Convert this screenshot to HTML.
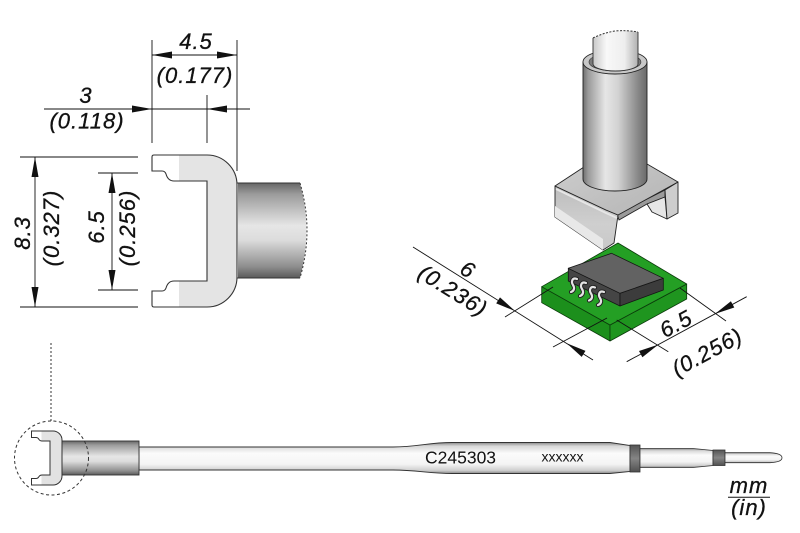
<!DOCTYPE html>
<html><head><meta charset="utf-8">
<style>html,body{margin:0;padding:0;background:#fff}svg{display:block}
.d{font-family:"Liberation Sans",Arial,sans-serif;font-style:italic;font-size:22px;letter-spacing:1px;fill:#111;stroke:#111;stroke-width:0.3}
</style></head>
<body>
<svg width="800" height="533" viewBox="0 0 800 533" xmlns="http://www.w3.org/2000/svg">
<defs>
<linearGradient id="forkFill" gradientUnits="userSpaceOnUse" x1="152" y1="0" x2="237" y2="0">
<stop offset="0" stop-color="#fff"/><stop offset="0.32" stop-color="#fff"/><stop offset="0.32" stop-color="#e4e4e4"/><stop offset="1" stop-color="#e4e4e4"/></linearGradient>
<linearGradient id="forkFill2" gradientUnits="userSpaceOnUse" x1="31" y1="0" x2="62" y2="0">
<stop offset="0" stop-color="#fff"/><stop offset="0.34" stop-color="#fff"/><stop offset="0.34" stop-color="#e2e2e2"/><stop offset="1" stop-color="#e2e2e2"/></linearGradient>
<linearGradient id="shankV" x1="0" y1="0" x2="0" y2="1">
<stop offset="0" stop-color="#666"/><stop offset="0.12" stop-color="#9c9c9c"/><stop offset="0.45" stop-color="#e6e6e6"/><stop offset="0.6" stop-color="#dcdcdc"/><stop offset="0.88" stop-color="#8e8e8e"/><stop offset="1" stop-color="#5a5a5a"/></linearGradient>
<linearGradient id="shaftV" x1="0" y1="0" x2="0" y2="1">
<stop offset="0" stop-color="#8a8a8a"/><stop offset="0.12" stop-color="#d8d8d8"/><stop offset="0.35" stop-color="#fbfbfb"/><stop offset="0.7" stop-color="#f4f4f4"/><stop offset="0.9" stop-color="#cfcfcf"/><stop offset="1" stop-color="#888"/></linearGradient>
<linearGradient id="bandV" x1="0" y1="0" x2="0" y2="1">
<stop offset="0" stop-color="#555"/><stop offset="0.5" stop-color="#858585"/><stop offset="1" stop-color="#505050"/></linearGradient>
<linearGradient id="cylH" x1="0" y1="0" x2="1" y2="0">
<stop offset="0" stop-color="#6f6f6f"/><stop offset="0.08" stop-color="#9a9a9a"/><stop offset="0.35" stop-color="#e6e6e6"/><stop offset="0.55" stop-color="#d2d2d2"/><stop offset="0.85" stop-color="#8a8a8a"/><stop offset="1" stop-color="#6a6a6a"/></linearGradient>
<linearGradient id="tubeH" x1="0" y1="0" x2="1" y2="0">
<stop offset="0" stop-color="#c8c8c8"/><stop offset="0.3" stop-color="#f8f8f8"/><stop offset="0.7" stop-color="#eeeeee"/><stop offset="1" stop-color="#b0b0b0"/></linearGradient>
<linearGradient id="brTop" x1="0" y1="0" x2="1" y2="1">
<stop offset="0" stop-color="#d0d0d0"/><stop offset="1" stop-color="#b4b4b4"/></linearGradient>
<linearGradient id="brSide" x1="0" y1="0" x2="0" y2="1">
<stop offset="0" stop-color="#bdbdbd"/><stop offset="0.6" stop-color="#cfcfcf"/><stop offset="1" stop-color="#c8c8c8"/></linearGradient>
</defs>

<!-- ===== Left 2D tip view ===== -->
<path d="M238,183 H300 Q313,230 300,278 H238 Z" fill="url(#shankV)"/>
<path d="M237,183 H300 M237,278 H300" stroke="#333" stroke-width="1" fill="none"/>
<path d="M300,183 Q314,230 300,278" stroke="#333" stroke-width="1" stroke-dasharray="2,2" fill="none"/>
<path d="M152,157 Q152,155 154,155 H207 A30,30 0 0 1 237,185 V277 A30,30 0 0 1 207,307 H154 Q152,307 152,305 V291 H162 Q165,291 166,288 Q168,281 174,281 H207 V181 H174 Q168,181 166,174 Q165,171 162,171 H152 Z" fill="url(#forkFill)" stroke="#333" stroke-width="1.1"/>

<!-- dims left -->
<g stroke="#111" stroke-width="0.9" fill="none">
<path d="M152,40 V143 M237,40 V171 M152,55 H237"/>
<path d="M44,109 H250 M207,95 V143"/>
<path d="M20,157 H138 M20,307 H138 M35,157 V307"/>
<path d="M98,173 H138 M98,290 H138 M112,173 V290"/>
</g>
<g fill="#111">
<polygon points="152,55 172,51.5 172,58.5"/><polygon points="237,55 217,51.5 217,58.5"/>
<polygon points="152,109 132,105.5 132,112.5"/><polygon points="207,109 227,105.5 227,112.5"/>
<polygon points="35,157 31.5,177 38.5,177"/><polygon points="35,307 31.5,287 38.5,287"/>
<polygon points="112,173 108.5,193 115.5,193"/><polygon points="112,290 108.5,270 115.5,270"/>
</g>
<text class="d" x="196" y="49" text-anchor="middle">4.5</text>
<text class="d" x="195" y="83" text-anchor="middle">(0.177)</text>
<text class="d" x="86" y="103" text-anchor="middle">3</text>
<text class="d" x="87" y="128.5" text-anchor="middle">(0.118)</text>
<text class="d" transform="translate(30,233) rotate(-90)" text-anchor="middle">8.3</text>
<text class="d" transform="translate(59,228) rotate(-90)" text-anchor="middle">(0.327)</text>
<text class="d" transform="translate(104,227) rotate(-90)" text-anchor="middle">6.5</text>
<text class="d" transform="translate(135,228) rotate(-90)" text-anchor="middle">(0.256)</text>

<!-- ===== Bottom full tool ===== -->
<path d="M51,343 V421" stroke="#333" stroke-width="1" stroke-dasharray="2,2"/>
<path d="M139,447 H393 C418,447 428,442.5 452,442.5 H610 L630,445.5 V471.5 L610,473.5 H452 C428,473.5 418,470 393,470 H139 Z" fill="url(#shaftV)" stroke="#333" stroke-width="0.9"/>
<rect x="62" y="441" width="77" height="34" fill="url(#shankV)" stroke="#333" stroke-width="0.9"/>
<path d="M31.5,431 H53 A9,9 0 0 1 62,440 V476 A9,9 0 0 1 53,485 H31.5 V478.5 H36 Q38,478.5 39,476.5 Q40,475 42,475 H50 V441 H42 Q40,441 39,439.5 Q38,437.5 36,437.5 H31.5 Z" fill="url(#forkFill2)" stroke="#333" stroke-width="1"/>
<rect x="630" y="445" width="10" height="27" fill="url(#bandV)" stroke="#333" stroke-width="0.8"/>
<path d="M640,448.5 H693 L713,450.5 V465.5 L693,467.5 H640 Z" fill="url(#shaftV)" stroke="#333" stroke-width="0.8"/>
<rect x="713" y="450" width="12" height="15.5" fill="url(#bandV)" stroke="#333" stroke-width="0.8"/>
<path d="M725,452.7 H770 Q782,453.5 782,457.7 Q782,462 770,462.7 H725 Z" fill="url(#shaftV)" stroke="#333" stroke-width="0.8"/>
<circle cx="51.5" cy="458" r="37" fill="none" stroke="#333" stroke-width="1" stroke-dasharray="3,2.5"/>
<text x="425" y="463.5" font-family="Liberation Sans, Arial, sans-serif" font-size="17.5" fill="#111">C245303</text>
<text x="541.5" y="461.5" font-family="Liberation Sans, Arial, sans-serif" font-size="14" fill="#111">xxxxxx</text>
<text class="d" x="749" y="493" text-anchor="middle">mm</text>
<path d="M728,497.3 H770" stroke="#111" stroke-width="1"/>
<text class="d" x="749" y="515" text-anchor="middle">(in)</text>

<!-- ===== Right 3D view ===== -->
<!-- board -->
<g stroke="#0b3b0b" stroke-width="0.8" stroke-linejoin="round">
<polygon points="541.7,286.7 610,325 610,341 541.7,302.7" fill="#1c8f1c"/>
<polygon points="610,325 686.7,284 686.7,299 610,341" fill="#1f951f"/>
<polygon points="541.7,286.7 618,243 686.7,284 610,325" fill="#249f24"/>
</g>
<!-- chip -->
<g stroke="#151515" stroke-width="0.8" stroke-linejoin="round">
<polygon points="568.3,268.3 620,293.3 620,306 568.3,281" fill="#454545"/>
<polygon points="620,293.3 663.3,278.3 663.3,290 620,306" fill="#3c3c3c"/>
<polygon points="568.3,268.3 611.6,253.3 663.3,278.3 620,293.3" fill="#626262"/>
</g>
<!-- leads -->
<g fill="none" stroke-linecap="round">
<g stroke="#222" stroke-width="4.2">
<path d="M577,279 C572,277 571,282 573,285 C575,288 574,291 571,292"/>
<path d="M586,283 C581,281 580,286 582,289 C584,292 583,295 580,296"/>
<path d="M595,287.5 C590,285.5 589,290.5 591,293.5 C593,296.5 592,299.5 589,300.5"/>
<path d="M604,292 C599,290 598,295 600,298 C602,301 601,304 598,305"/>
</g>
<g stroke="#e4e4e4" stroke-width="2.2">
<path d="M577,279 C572,277 571,282 573,285 C575,288 574,291 571,292"/>
<path d="M586,283 C581,281 580,286 582,289 C584,292 583,295 580,296"/>
<path d="M595,287.5 C590,285.5 589,290.5 591,293.5 C593,296.5 592,299.5 589,300.5"/>
<path d="M604,292 C599,290 598,295 600,298 C602,301 601,304 598,305"/>
</g>
</g>
<!-- bracket -->
<g stroke="#222" stroke-width="0.9" stroke-linejoin="round">
<polygon points="617,214 665,190 665,197 647,204 619,220" fill="#9a9a9a"/>
<polygon points="647,204 665,197 667,219 652,212" fill="#e6e6e6"/>
<polygon points="665,190 678,182 678,213 667,219" fill="#cdcdcd"/>
<polygon points="555,186 606,210 618,215 614,243 603,250 555,217" fill="url(#brSide)"/>
<polygon points="555,206 603,239 603,250 555,217" fill="#e8e8e8" stroke="none"/>
<polygon points="555,186 616,146 678,182 618,215 606,210" fill="url(#brTop)"/>
<path d="M556,189 L606,213 L617,218" fill="none" stroke="#e6e6e6" stroke-width="2"/>
</g>
<!-- cylinder -->
<path d="M583,62 V179 A32,12 0 0 0 647,179 V62 Z" fill="url(#cylH)" stroke="#222" stroke-width="0.9"/>
<ellipse cx="615" cy="62" rx="32" ry="12" fill="#c8c8c8" stroke="#222" stroke-width="0.9"/>
<ellipse cx="615" cy="62" rx="26" ry="9" fill="#7a7a7a" stroke="#333" stroke-width="0.6"/>
<path d="M593,64 V38 Q603,33 615,31 Q628,30 638,32 V64 A22.5,7 0 0 1 593,64 Z" fill="url(#tubeH)"/>
<path d="M593,64 V38 M638,64 V32 M593,64 A22.5,7 0 0 0 638,64" fill="none" stroke="#333" stroke-width="0.9"/>
<path d="M593,38 Q603,33 615,31 Q628,30 638,32" fill="none" stroke="#333" stroke-width="1" stroke-dasharray="2,1.5"/>

<!-- 3D dims -->
<g stroke="#111" stroke-width="0.9" fill="none">
<path d="M413,247 L593,360"/>
<path d="M505,317 L553,287"/>
<path d="M553,347 L607,318"/>
<path d="M626.7,361.7 L746.7,296.7"/>
<path d="M680,288 L726,321"/>
<path d="M616.7,320 L668.3,351.7"/>
</g>
<g fill="#111">
<polygon points="515,311 496.2,303.4 500,297.4"/>
<polygon points="566.7,343.3 581.7,356.9 585.5,350.9"/>
<polygon points="658.3,344.6 642.4,357.2 639,351"/>
<polygon points="715,313.9 734.3,307.5 730.9,301.3"/>
</g>
<text class="d" transform="translate(464,276) rotate(32)" text-anchor="middle">6</text>
<text class="d" transform="translate(449,297) rotate(32)" text-anchor="middle">(0.236)</text>
<text class="d" transform="translate(679.6,330.4) rotate(-28.5)" text-anchor="middle">6.5</text>
<text class="d" transform="translate(710.8,358.7) rotate(-28.5)" text-anchor="middle">(0.256)</text>
</svg>
</body></html>
